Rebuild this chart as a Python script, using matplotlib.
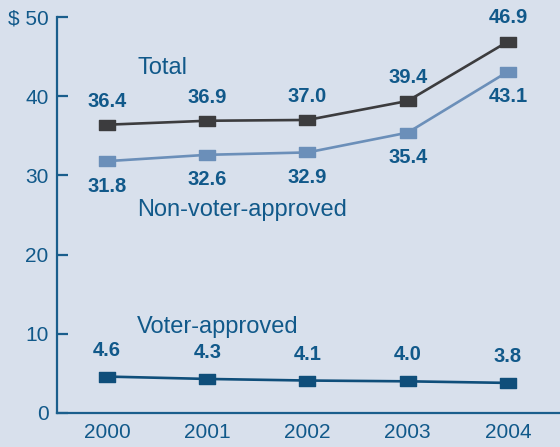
import matplotlib.pyplot as plt
from matplotlib.path import Path

years = [2000, 2001, 2002, 2003, 2004]
total = [36.4, 36.9, 37.0, 39.4, 46.9]
non_voter = [31.8, 32.6, 32.9, 35.4, 43.1]
voter = [4.6, 4.3, 4.1, 4.0, 3.8]
ytick_vals = [0, 10, 20, 30, 40, 50]
ytick_labels = ["0", "10", "20", "30", "40", "$ 50"]

bg = "#D8E0EC"
txt = "#11598A"
axis_col = "#1A5E8C"

plt.rcParams['font.family'] = ['Liberation Sans', 'DejaVu Sans']

fig = plt.figure(figsize=(5.6, 4.47), dpi=100, facecolor=bg)
ax = fig.add_axes([57 / 560, 34 / 447, 503 / 560, 396 / 447])
ax.set_facecolor(bg)

# wide rectangular marker like the original
rect = Path([(-0.7, -0.5), (0.7, -0.5), (0.7, 0.5), (-0.7, 0.5), (-0.7, -0.5)],
            [Path.MOVETO, Path.LINETO, Path.LINETO, Path.LINETO, Path.CLOSEPOLY])

series = [
    (total, "#3C3C3E", 17),
    (non_voter, "#6B8FB9", -18),
    (voter, "#0F4E7A", 19),
]
for vals, col, off in series:
    ax.plot(years, vals, color=col, lw=1.9, marker=rect, markersize=11,
            markerfacecolor=col, markeredgecolor=col, zorder=3, clip_on=False)
    for x, v in zip(years, vals):
        ax.annotate(f"{v:.1f}", (x, v), xytext=(0, off), textcoords="offset points",
                    ha="center", va="center", fontsize=14.5, fontweight="bold",
                    color=txt)

ax.text(2000.3, 43.5, "Total", fontsize=17, color=txt, va="center", ha="left")
ax.text(2000.3, 25.6, "Non-voter-approved", fontsize=17, color=txt, va="center", ha="left")
ax.text(2000.3, 10.9, "Voter-approved", fontsize=17, color=txt, va="center", ha="left")

ax.set_xlim(1999.5, 2004.52)
ax.set_ylim(0, 50)
ax.set_xticks(years)
ax.set_xticklabels([str(y) for y in years])
ax.set_yticks(ytick_vals)
ax.set_yticklabels(ytick_labels)

for s in ["top", "right"]:
    ax.spines[s].set_visible(False)
for s in ["left", "bottom"]:
    ax.spines[s].set_color(axis_col)
    ax.spines[s].set_linewidth(1.6)

ax.tick_params(axis="y", direction="in", length=8, width=1.6, color=axis_col,
               labelcolor=txt, labelsize=15, pad=6)
ax.tick_params(axis="x", length=0, labelcolor=txt, labelsize=15, pad=7)

fig.savefig("out.png", dpi=100, facecolor=bg)
